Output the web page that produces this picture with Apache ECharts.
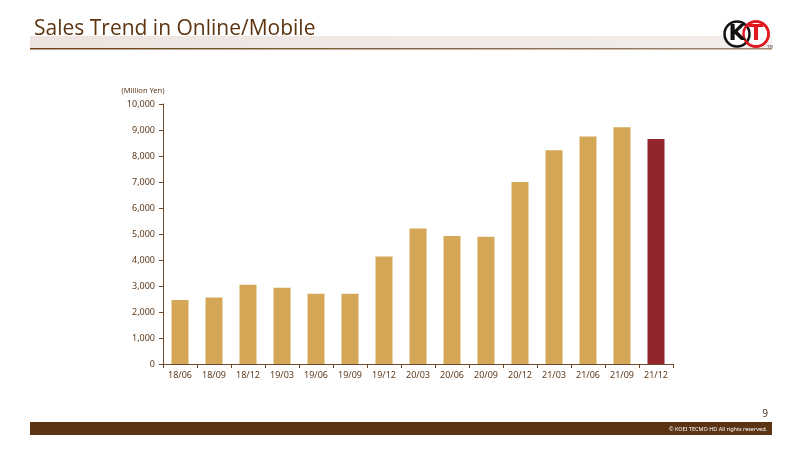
<!DOCTYPE html>
<html>
<head>
<meta charset="utf-8">
<script src="https://cdn.jsdelivr.net/npm/echarts@6/dist/echarts.min.js"></script>
<style>html,body{margin:0;padding:0;background:#fff}#c{width:800px;height:450px}</style>
</head>
<body>
<div id="c"></div>
<script>
const categories = ['18/06','18/09','18/12','19/03','19/06','19/09','19/12','20/03','20/06','20/09','20/12','21/03','21/06','21/09','21/12'];
const sales = [2460, 2560, 3050, 2930, 2700, 2700, 4130, 5210, 4920, 4890, 7000, 8220, 8750, 9110, 8650];
const highlightIndex = 14;

const chart = echarts.init(document.getElementById('c'));
const brown = '#5E3A1C';
chart.setOption({
  animation: false,
  textStyle: { fontFamily: 'Noto Sans' },
  grid: { left: 163, right: 127, top: 104, bottom: 86 },
  xAxis: {
    type: 'category',
    data: categories,
    axisLine: { lineStyle: { color: '#6B4A2E', width: 1 } },
    axisTick: { show: true, alignWithLabel: false, length: 4, lineStyle: { color: '#6B4A2E' } },
    axisLabel: { color: brown, fontSize: 9, margin: 7 }
  },
  yAxis: {
    type: 'value',
    min: 0, max: 10000, interval: 1000,
    name: '(Million Yen)',
    nameLocation: 'end',
    nameGap: 9,
    nameTextStyle: { color: brown, fontSize: 7.5, align: 'center', padding: [0, 0, 0, -40] },
    axisLine: { show: true, lineStyle: { color: '#6B4A2E', width: 1 } },
    axisTick: { show: true, length: 4, lineStyle: { color: '#6B4A2E' } },
    splitLine: { show: false },
    axisLabel: { color: brown, fontSize: 9, margin: 8,
      formatter: v => v.toLocaleString('en-US') }
  },
  series: [{
    type: 'bar',
    barWidth: '50%',
    data: sales.map((v, i) => ({
      value: v,
      itemStyle: { color: i === highlightIndex ? '#93252D' : '#D4A757' }
    }))
  }],
  graphic: [
    { type: 'rect', shape: { x: 30, y: 36, width: 742, height: 12 },
      style: { fill: new echarts.graphic.LinearGradient(0, 0, 1, 0, [
        { offset: 0, color: '#EDE4E0' }, { offset: 1, color: '#F3EEEB' }]) } },
    { type: 'rect', shape: { x: 30, y: 48, width: 742, height: 1.5 },
      style: { fill: new echarts.graphic.LinearGradient(0, 0, 1, 0, [
        { offset: 0, color: '#6B4218' }, { offset: 1, color: '#A08670' }]) } },
    { type: 'text', left: 34, top: 19,
      style: { text: 'Sales Trend in Online/Mobile', fill: '#5C3410', font: '21px "Open Sans"' } },
    { type: 'circle', shape: { cx: 756, cy: 34, r: 12.5 }, style: { fill: '#fff', stroke: '#E0181F', lineWidth: 2.5 } },
    { type: 'circle', shape: { cx: 737, cy: 34, r: 12.5 }, style: { fill: '#fff', stroke: '#111', lineWidth: 2.5 } },
    { type: 'circle', shape: { cx: 756, cy: 34, r: 12.5 }, style: { fill: 'none', stroke: '#E0181F', lineWidth: 2.5 } },
    { type: 'text', x: 737, y: 34, style: { text: 'K', fill: '#111', font: 'bold 22px "DejaVu Sans"', align: 'center', verticalAlign: 'middle' } },
    { type: 'text', x: 756, y: 34, style: { text: 'T', fill: '#E0181F', font: 'bold 22px "DejaVu Sans"', align: 'center', verticalAlign: 'middle' } },
    { type: 'text', x: 767, y: 45, style: { text: 'TM', fill: '#555', font: '4px "DejaVu Sans"' } },
    { type: 'text', x: 768, y: 414, style: { text: '9', fill: '#4A3020', font: '10px "Noto Sans"', align: 'right', verticalAlign: 'middle' } },
    { type: 'rect', shape: { x: 30, y: 422, width: 742, height: 13 }, style: { fill: '#5C3313' } },
    { type: 'text', x: 767, y: 429, style: { text: '© KOEI TECMO HD All rights reserved.', fill: '#fff', font: '5.5px "Noto Sans"', align: 'right', verticalAlign: 'middle' } }
  ]
});
</script>
</body>
</html>
